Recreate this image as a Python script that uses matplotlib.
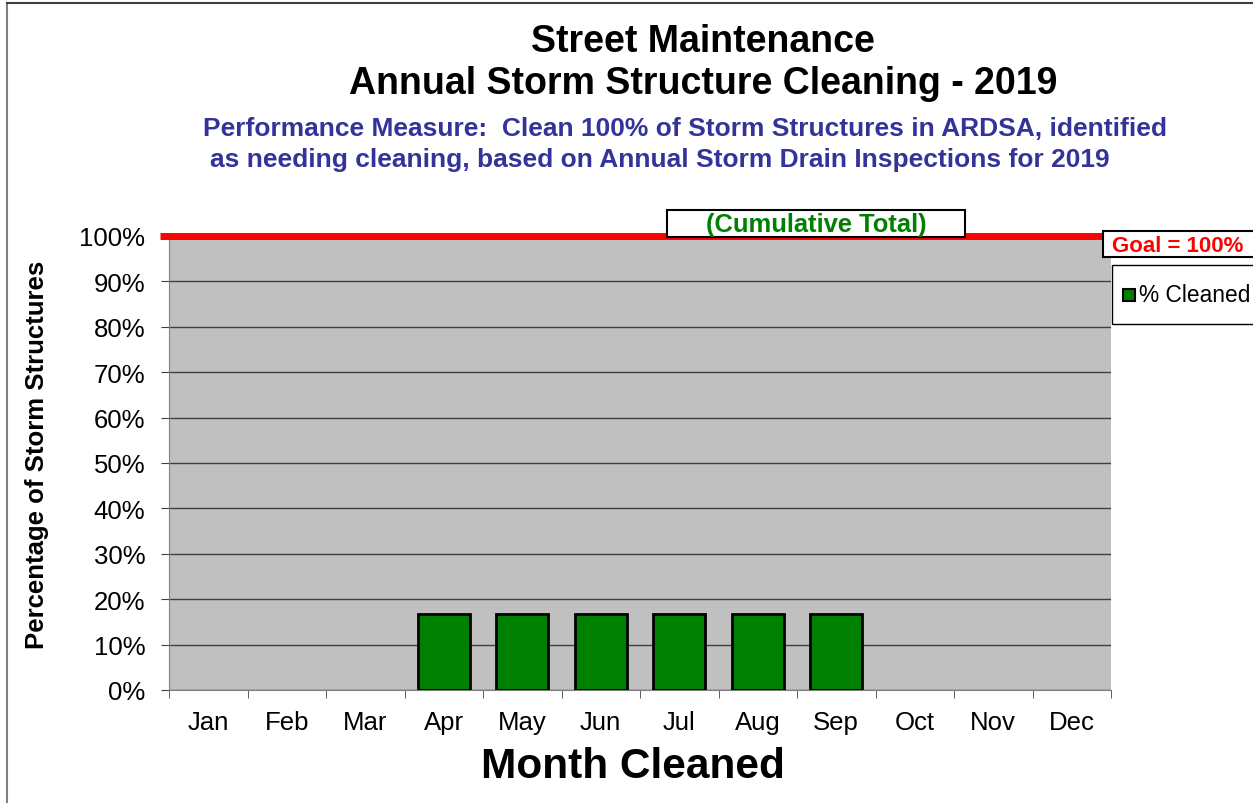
import matplotlib
matplotlib.use("Agg")
import matplotlib.pyplot as plt
from matplotlib.patches import Rectangle
import numpy as np

plt.rcParams['font.family'] = ['Liberation Sans', 'DejaVu Sans']

months = ["Jan", "Feb", "Mar", "Apr", "May", "Jun", "Jul", "Aug", "Sep", "Oct", "Nov", "Dec"]
pct_cleaned = [0, 0, 0, 16.7, 16.7, 16.7, 16.7, 16.7, 16.7, 0, 0, 0]
goal = 100
yticks = [0, 10, 20, 30, 40, 50, 60, 70, 80, 90, 100]

W, H = 1253, 804
fig = plt.figure(figsize=(W / 100, H / 100), dpi=100)

def fx(px):
    return px / W

def fy(py):
    return 1 - py / H

# outer border (left and top)
fig.add_artist(plt.Line2D([fx(7), fx(7)], [0, fy(4)], color='#808080', lw=1.5))
fig.add_artist(plt.Line2D([fx(7), 1], [fy(4), fy(4)], color='#404040', lw=1.5))

left, right, top, bottom = 169, 1111, 237, 691
ax = fig.add_axes([fx(left), fy(bottom), fx(right - left), fy(top) - fy(bottom)])
ax.set_facecolor('#c0c0c0')

x = np.arange(len(months))
vals = [v if v > 0 else np.nan for v in pct_cleaned]
ax.bar(x, vals, width=0.66, color='#008000', edgecolor='black', linewidth=2, zorder=3)

ax.set_xlim(-0.5, len(months) - 0.5)
ax.set_ylim(0, 100)
ax.set_yticks(yticks)
ax.set_yticklabels([f"{t}%" for t in yticks], fontsize=18.5)
ax.yaxis.grid(True, color='#404040', lw=1)
ax.set_axisbelow(True)

ax.set_xticks(x)
ax.set_xticklabels(months, fontsize=18.5)
ax.set_xticks(np.arange(-0.5, len(months)), minor=True)
ax.tick_params(axis='x', which='major', length=0, pad=14.5)
ax.tick_params(axis='x', which='minor', length=6, color='#404040', direction='out')
ax.tick_params(axis='y', length=6, color='#404040', direction='out', pad=11)

for s in ['top', 'right']:
    ax.spines[s].set_visible(False)
ax.spines['left'].set_color('#808080')
ax.spines['bottom'].set_color('#808080')

# goal line
ax.plot([-0.62, 11.45], [goal, goal], color='red', lw=5, solid_capstyle='butt', clip_on=False, zorder=5)

fig.text(fx(633), fy(767), "Month Cleaned", ha='center', va='center', fontsize=30.5, fontweight='bold')
fig.text(fx(37), fy(455), "Percentage of Storm Structures", ha='center', va='center', fontsize=18.5,
         fontweight='bold', rotation=90)

# titles
fig.text(fx(703), fy(42), "Street Maintenance", ha='center', va='center', fontsize=27, fontweight='bold')
fig.text(fx(703), fy(84), "Annual Storm Structure Cleaning - 2019", ha='center', va='center', fontsize=27, fontweight='bold')
fig.text(fx(685), fy(129), "Performance Measure:  Clean 100% of Storm Structures in ARDSA, identified",
         ha='center', va='center', fontsize=19, fontweight='bold', color='#333399')
fig.text(fx(660), fy(160), "as needing cleaning, based on Annual Storm Drain Inspections for 2019",
         ha='center', va='center', fontsize=19, fontweight='bold', color='#333399')

# cumulative total box
fig.add_artist(Rectangle((fx(667), fy(238)), fx(965 - 667), fy(211) - fy(238), facecolor='white',
                         edgecolor='black', lw=1.5, zorder=6))
fig.text(fx(816), fy(225), "(Cumulative Total)", ha='center', va='center', fontsize=18.4,
         fontweight='bold', color='#008000', zorder=7)

# goal box
fig.add_artist(Rectangle((fx(1103), fy(258)), fx(1260 - 1103), fy(232) - fy(258), facecolor='white',
                         edgecolor='black', lw=1.5, zorder=6))
fig.text(fx(1178), fy(246), "Goal = 100%", ha='center', va='center', fontsize=16,
         fontweight='bold', color='red', zorder=7)

# legend box
fig.add_artist(Rectangle((fx(1112), fy(325)), fx(1260 - 1112), fy(266) - fy(325), facecolor='white',
                         edgecolor='black', lw=1, zorder=6))
fig.add_artist(Rectangle((fx(1123), fy(302)), fx(12), fy(290) - fy(302), facecolor='#008000',
                         edgecolor='black', lw=1.5, zorder=7))
fig.text(fx(1139), fy(296), "% Cleaned", ha='left', va='center', fontsize=16.4, zorder=7)

fig.savefig("out.png", dpi=100)
